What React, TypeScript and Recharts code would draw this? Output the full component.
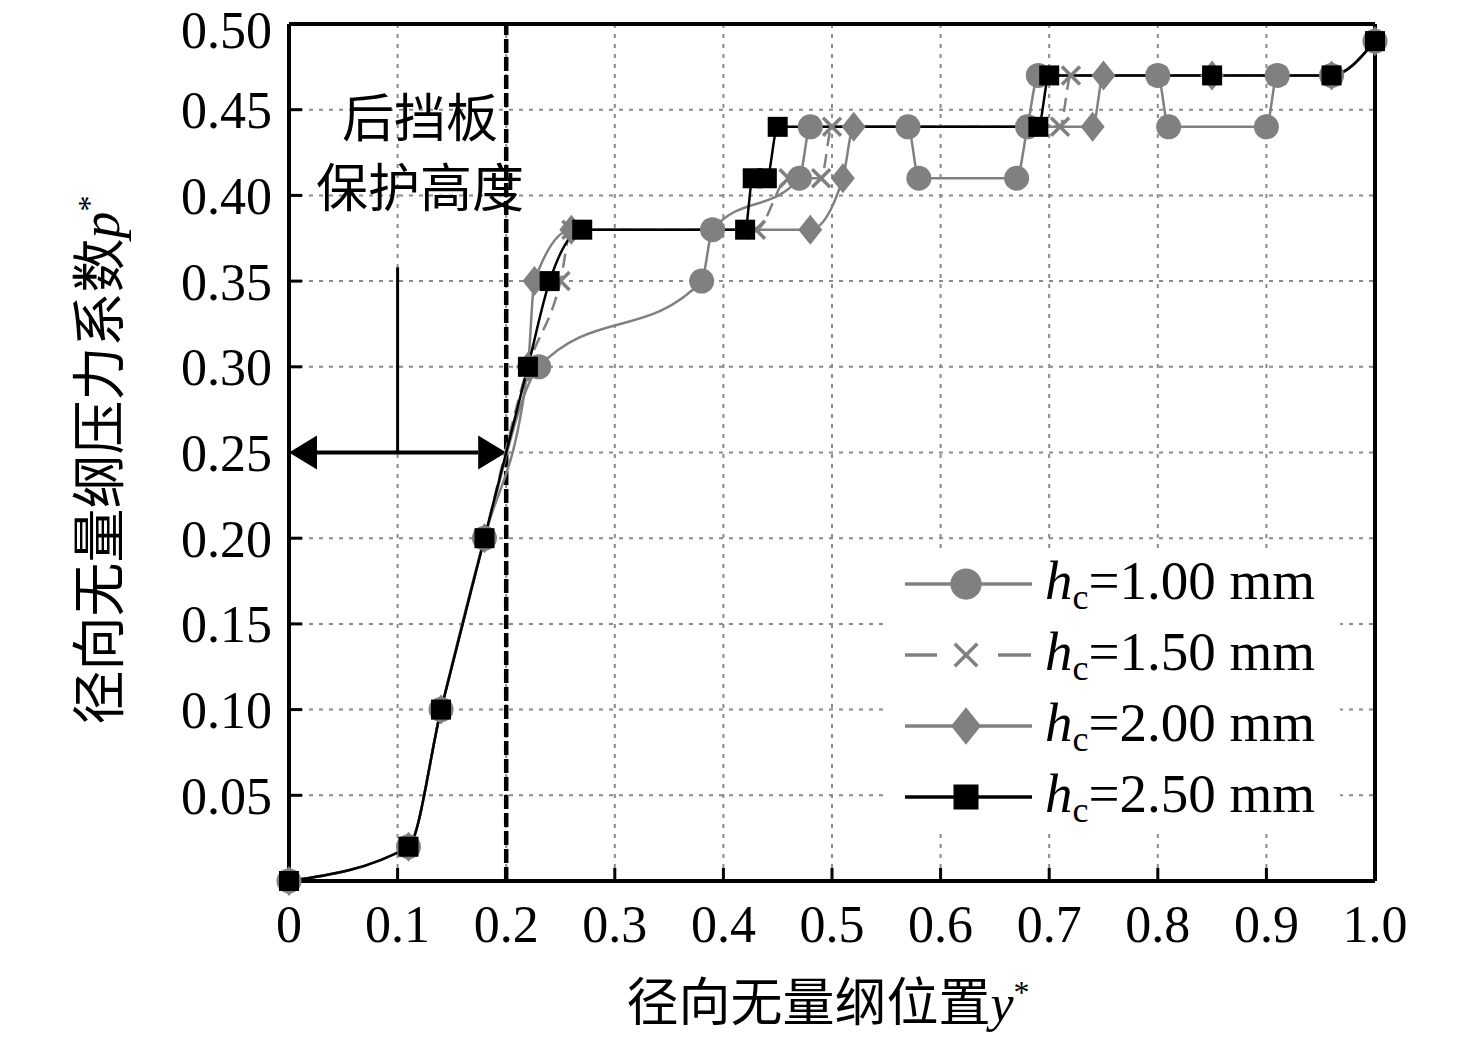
import React from "react";
import {
  LineChart,
  Line,
  XAxis,
  YAxis,
  CartesianGrid,
  ReferenceLine,
  Legend
} from "recharts";

// tick positions
const xTicks = [0, 0.1, 0.2, 0.3, 0.4, 0.5, 0.6, 0.7, 0.8, 0.9, 1.0];
const yTicks = [0, 0.05, 0.1, 0.15, 0.2, 0.25, 0.3, 0.35, 0.4, 0.45, 0.5];

// radial position y* and pressure coefficient p* for each hc
const y100 = [0, 0.11, 0.14, 0.18, 0.23, 0.38, 0.39, 0.47, 0.48, 0.57, 0.58, 0.67, 0.68, 0.69, 0.8, 0.81, 0.9, 0.91, 0.96, 1.0];
const p100 = [0, 0.02, 0.1, 0.2, 0.3, 0.35, 0.38, 0.41, 0.44, 0.44, 0.41, 0.41, 0.44, 0.47, 0.47, 0.44, 0.44, 0.47, 0.47, 0.49];

const y150 = [0, 0.11, 0.14, 0.18, 0.22, 0.25, 0.26, 0.43, 0.46, 0.49, 0.5, 0.71, 0.72, 0.8, 0.91, 0.96, 1.0];
const p150 = [0, 0.02, 0.1, 0.2, 0.3, 0.35, 0.38, 0.38, 0.41, 0.41, 0.44, 0.44, 0.47, 0.47, 0.47, 0.47, 0.49];

const y200 = [0, 0.11, 0.14, 0.18, 0.22, 0.226, 0.26, 0.48, 0.51, 0.52, 0.74, 0.75, 0.85, 0.96, 1.0];
const p200 = [0, 0.02, 0.1, 0.2, 0.3, 0.35, 0.38, 0.38, 0.41, 0.44, 0.44, 0.47, 0.47, 0.47, 0.49];

const y250 = [0, 0.11, 0.14, 0.18, 0.22, 0.24, 0.27, 0.42, 0.427, 0.44, 0.45, 0.69, 0.7, 0.85, 0.96, 1.0];
const p250 = [0, 0.02, 0.1, 0.2, 0.3, 0.35, 0.38, 0.38, 0.41, 0.41, 0.44, 0.44, 0.47, 0.47, 0.47, 0.49];

const hcLabels = ["1.00", "1.50", "2.00", "2.50"];

const toRows = (xs: number[], ps: number[]) => xs.map((x, i) => ({ x, p: ps[i] }));

const GRAY = "#808080";
const SERIF = "'Liberation Serif', 'Times New Roman', serif";
const CJK = "'Liberation Serif', 'Noto Sans CJK SC', serif";

type Marker = "circle" | "cross" | "diamond" | "square";

function markerShape(kind: Marker, cx: number, cy: number, big: boolean, key?: string) {
  const s = big ? 1.25 : 1;
  if (kind === "circle") {
    return <circle key={key} cx={cx} cy={cy} r={12.5 * s} fill={GRAY} />;
  }
  if (kind === "cross") {
    const d = 9 * s;
    return (
      <g key={key} stroke={GRAY} strokeWidth={3.5}>
        <line x1={cx - d} y1={cy - d} x2={cx + d} y2={cy + d} />
        <line x1={cx - d} y1={cy + d} x2={cx + d} y2={cy - d} />
      </g>
    );
  }
  if (kind === "diamond") {
    const w = 12 * s;
    const h = 15 * s;
    return (
      <polygon
        key={key}
        points={`${cx},${cy - h} ${cx + w},${cy} ${cx},${cy + h} ${cx - w},${cy}`}
        fill={GRAY}
      />
    );
  }
  const a = 10 * s;
  return <rect key={key} x={cx - a} y={cy - a} width={2 * a} height={2 * a} fill="#000" />;
}

const makeDot = (kind: Marker) => (props: any) => {
  const { cx, cy, index } = props;
  if (cx == null || cy == null) return <g key={`${kind}-${index}`} />;
  return markerShape(kind, cx, cy, false, `${kind}-${index}`);
};

const series = [
  { name: hcLabels[0], data: toRows(y100, p100), color: GRAY, dash: undefined, marker: "circle" as Marker },
  { name: hcLabels[1], data: toRows(y150, p150), color: GRAY, dash: "14 8", marker: "cross" as Marker },
  { name: hcLabels[2], data: toRows(y200, p200), color: GRAY, dash: undefined, marker: "diamond" as Marker },
  { name: hcLabels[3], data: toRows(y250, p250), color: "#000", dash: undefined, marker: "square" as Marker }
];

const renderLegend = () => (
  <div style={{ background: "#fff", width: 455, height: 284 }}>
    {series.map((s) => (
      <div key={s.name} style={{ display: "flex", alignItems: "center", height: 71 }}>
        <svg width={160} height={60} style={{ flex: "none" }}>
          {s.marker === "cross" ? (
            <g stroke={s.color} strokeWidth={3.5}>
              <line x1={20} y1={30} x2={52} y2={30} />
              <line x1={113} y1={30} x2={146} y2={30} />
            </g>
          ) : (
            <line x1={20} y1={30} x2={147} y2={30} stroke={s.color} strokeWidth={3.5} />
          )}
          {markerShape(s.marker, 81, 30, true)}
        </svg>
        <span style={{ fontFamily: SERIF, fontSize: 55, color: "#000", whiteSpace: "nowrap", lineHeight: 1 }}>
          <i>h</i>
          <sub style={{ fontSize: 36, verticalAlign: -10 }}>c</sub>={s.name} mm
        </span>
      </div>
    ))}
  </div>
);

const arrowShape = (props: any) => {
  const { x1, y1, x2, y2 } = props;
  const L = 28;
  const H = 17;
  return (
    <g>
      <line x1={x1 + L} y1={y1} x2={x2 - L} y2={y2} stroke="#000" strokeWidth={4} />
      <polygon points={`${x1},${y1} ${x1 + L},${y1 - H} ${x1 + L},${y1 + H}`} fill="#000" />
      <polygon points={`${x2},${y2} ${x2 - L},${y2 - H} ${x2 - L},${y2 + H}`} fill="#000" />
    </g>
  );
};

const tickStyle = { fontFamily: SERIF, fontSize: 52, fill: "#000" };

export default function App() {
  return (
    <div style={{ position: "absolute", left: 0, top: 0, width: 1476, height: 1043, background: "#fff" }}>
      <LineChart
        width={1476}
        height={1043}
        margin={{ top: 23, right: 100, bottom: 102, left: 0 }}
      >
        <CartesianGrid stroke="#8a8a8a" strokeWidth={2} strokeDasharray="4 6" />
        <XAxis
          type="number"
          dataKey="x"
          domain={[0, 1]}
          ticks={xTicks}
          height={60}
          tickSize={-13}
          tickMargin={37}
          tickFormatter={(v: number) => (v === 0 ? "0" : v.toFixed(1))}
          tick={tickStyle}
          axisLine={{ stroke: "#000", strokeWidth: 4 }}
          tickLine={{ stroke: "#000", strokeWidth: 3 }}
        />
        <XAxis
          xAxisId="top"
          orientation="top"
          type="number"
          domain={[0, 1]}
          ticks={xTicks}
          height={1}
          tickSize={-13}
          tickFormatter={() => ""}
          axisLine={{ stroke: "#000", strokeWidth: 4 }}
          tickLine={{ stroke: "#000", strokeWidth: 3 }}
        />
        <YAxis
          type="number"
          domain={[0, 0.5]}
          ticks={yTicks}
          width={289}
          tickSize={-13}
          tickMargin={30}
          tickFormatter={(v: number) => (v === 0 ? "" : v.toFixed(2))}
          tick={tickStyle}
          axisLine={{ stroke: "#000", strokeWidth: 4 }}
          tickLine={{ stroke: "#000", strokeWidth: 3 }}
        />
        <YAxis
          yAxisId="right"
          orientation="right"
          type="number"
          domain={[0, 0.5]}
          ticks={yTicks}
          width={1}
          tickSize={-13}
          tickFormatter={() => ""}
          axisLine={{ stroke: "#000", strokeWidth: 4 }}
          tickLine={{ stroke: "#000", strokeWidth: 3 }}
        />
        <ReferenceLine x={0.2} stroke="#000" strokeWidth={4.5} strokeDasharray="14 4" />
        <ReferenceLine
          segment={[{ x: 0.1, y: 0.25 }, { x: 0.1, y: 0.358 }]}
          stroke="#000"
          strokeWidth={3}
        />
        <ReferenceLine
          segment={[{ x: 0, y: 0.25 }, { x: 0.2, y: 0.25 }]}
          shape={arrowShape}
        />
        {series.map((s) => (
          <Line
            key={s.name}
            data={s.data}
            dataKey="p"
            type="monotone"
            stroke={s.color}
            strokeWidth={2.5}
            strokeDasharray={s.dash}
            dot={makeDot(s.marker)}
            activeDot={false}
            isAnimationActive={false}
          />
        ))}
        <Legend
          layout="horizontal"
          verticalAlign="middle"
          align="center"
          content={renderLegend}
          wrapperStyle={{ left: 885, top: 548, width: 455, height: 284 }}
        />
      </LineChart>

      <div
        style={{
          position: "absolute",
          left: 420,
          top: 155,
          transform: "translate(-50%, -50%)",
          fontFamily: CJK,
          fontSize: 52,
          lineHeight: "70px",
          textAlign: "center",
          whiteSpace: "nowrap"
        }}
      >
        后挡板
        <br />
        保护高度
      </div>

      <div
        style={{
          position: "absolute",
          left: 100,
          top: 460,
          transform: "translate(-50%, -50%) rotate(-90deg)",
          fontFamily: CJK,
          fontSize: 54,
          whiteSpace: "nowrap",
          lineHeight: 1
        }}
      >
        径向无量纲压力系数<i style={{ fontFamily: SERIF }}>p</i>
        <sup style={{ fontFamily: SERIF, fontSize: 32 }}>*</sup>
      </div>

      <div
        style={{
          position: "absolute",
          left: 828,
          top: 1003,
          transform: "translate(-50%, -50%)",
          fontFamily: CJK,
          fontSize: 52,
          whiteSpace: "nowrap",
          lineHeight: 1
        }}
      >
        径向无量纲位置<i style={{ fontFamily: SERIF }}>y</i>
        <sup style={{ fontFamily: SERIF, fontSize: 32 }}>*</sup>
      </div>
    </div>
  );
}
